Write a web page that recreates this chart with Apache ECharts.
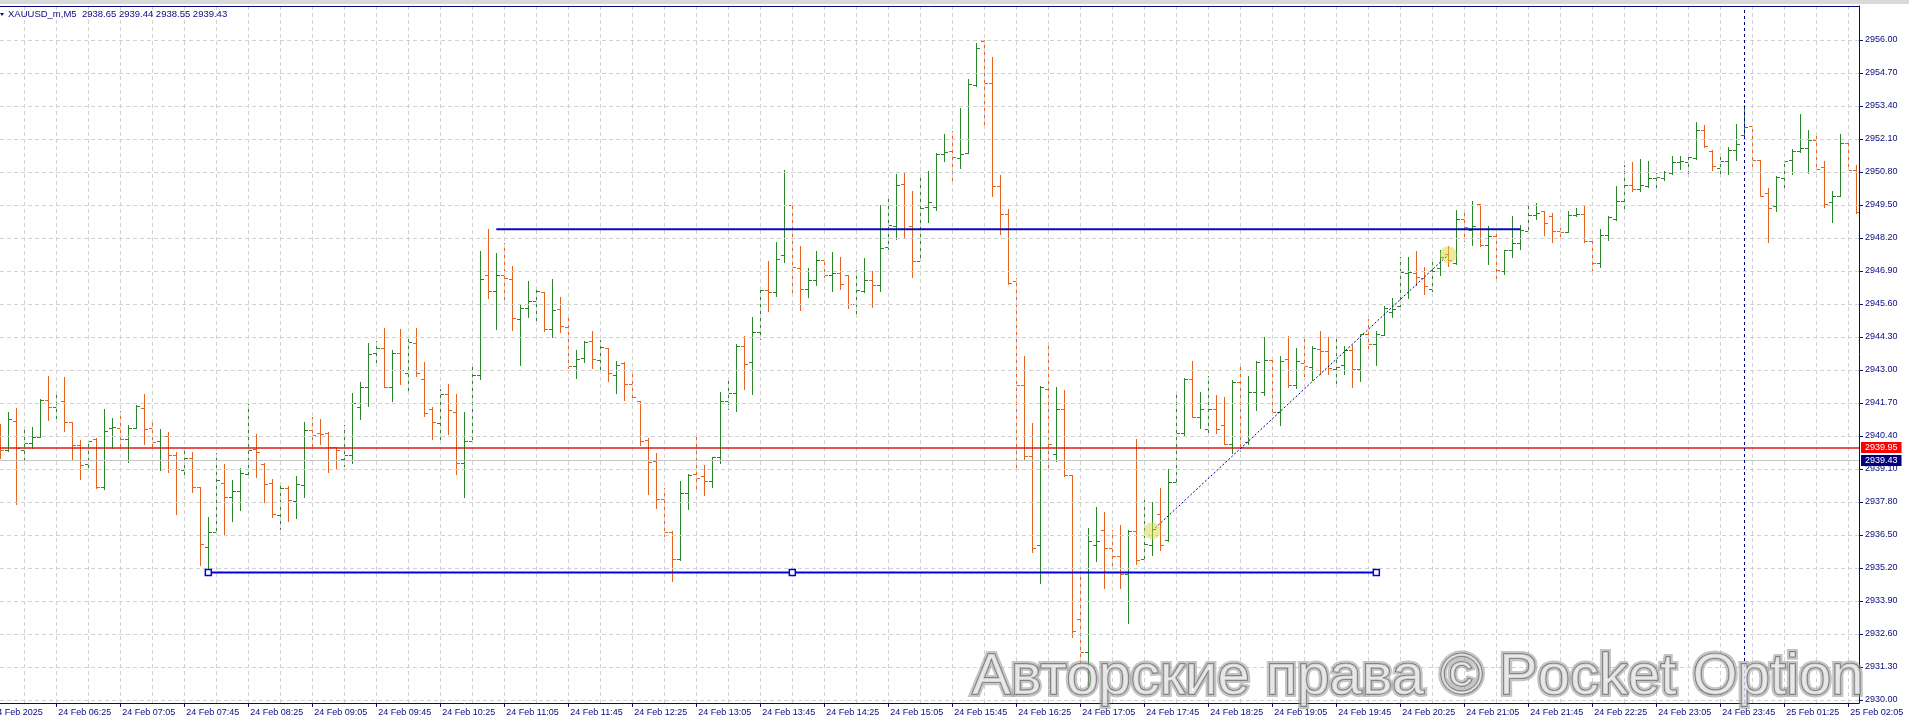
<!DOCTYPE html>
<html>
<head>
<meta charset="utf-8">
<script src="https://cdn.jsdelivr.net/npm/echarts@6.0.0/dist/echarts.min.js"></script>
<style>
html,body{margin:0;padding:0;background:#fff;}
#chart{width:1909px;height:719px;}
</style>
</head>
<body>
<div id="chart"></div>
<script>
// ---------- DATA ----------
const headerText = 'XAUUSD_m,M5  2938.65 2939.44 2938.55 2939.43';

const opens = [
2940.51,2939.83,2940.98,2939.85,2940.12,2940.37,2941.81,2941.54,2941.79,2940.96,
2940.04,2939.29,2940.29,2938.38,2940.70,2940.71,2940.27,2940.71,2941.50,2940.71,
2940.22,2940.41,2939.64,2939.07,2939.53,2938.40,2936.02,2936.61,2938.54,2938.00,
2938.24,2938.91,2939.88,2939.30,2938.55,2937.28,2938.34,2937.84,2938.45,2940.64,
2940.51,2940.50,2939.95,2939.49,2939.64,2941.56,2942.32,2943.66,2943.87,2942.32,
2943.68,2942.88,2944.06,2942.65,2941.48,2940.93,2942.06,2941.33,2939.34,2940.22,
2942.80,2946.74,2946.12,2946.74,2946.58,2945.00,2945.44,2945.71,2946.07,2944.61,
2945.41,2944.70,2943.15,2943.47,2944.15,2943.40,2943.86,2942.80,2943.26,2942.46,
2941.77,2940.26,2939.40,2937.91,2936.62,2935.55,2938.15,2938.90,2938.84,2938.63,
2939.59,2941.79,2942.11,2943.93,2943.31,2944.51,2946.15,2946.06,2947.53,2949.50,
2947.00,2946.19,2946.56,2947.33,2946.74,2946.83,2946.73,2945.61,2946.11,2946.56,
2946.35,2947.83,2948.66,2950.33,2948.67,2947.29,2949.43,2949.41,2951.51,2951.62,
2951.35,2951.54,2954.23,2955.95,2954.32,2950.26,2949.16,2946.49,2942.39,2939.60,
2936.11,2942.26,2939.68,2941.47,2938.87,2933.20,2931.90,2936.11,2936.70,2935.98,
2935.69,2934.97,2936.67,2935.55,2936.09,2937.32,2936.31,2938.59,2940.51,2942.66,
2941.15,2940.66,2941.47,2940.83,2940.07,2942.51,2940.15,2942.12,2942.12,2943.40,
2941.33,2943.44,2942.39,2943.27,2943.10,2943.81,2943.74,2943.02,2943.18,2943.77,
2943.02,2944.40,2944.03,2944.38,2945.29,2945.54,2946.81,2946.81,2946.62,2946.21,
2947.02,2947.57,2947.21,2948.96,2948.53,2949.55,2947.93,2948.26,2946.90,2947.72,
2948.00,2948.46,2949.12,2949.25,2949.05,2948.46,2948.43,2949.12,2949.14,2948.07,
2947.21,2948.33,2948.95,2949.67,2950.30,2950.13,2950.26,2950.56,2950.56,2950.76,
2951.18,2951.18,2951.35,2952.47,2951.61,2950.96,2951.25,2951.68,2952.27,2952.60,
2951.26,2949.97,2949.45,2950.56,2951.29,2951.64,2951.75,2952.07,2950.98,2949.60,
2949.86,2951.94,2950.89
];
const highs = [
2940.88,2941.33,2941.50,2940.72,2940.76,2941.85,2942.77,2942.14,2942.73,2940.96,
2940.25,2940.25,2940.31,2941.47,2941.10,2941.37,2940.83,2941.63,2942.07,2941.08,
2940.67,2940.56,2939.76,2939.85,2939.76,2938.40,2937.21,2939.74,2939.30,2938.67,
2939.12,2941.68,2940.47,2939.34,2938.71,2938.41,2938.41,2938.82,2940.94,2941.16,
2941.08,2940.54,2939.95,2940.84,2942.09,2942.52,2944.06,2944.16,2944.66,2943.80,
2944.62,2944.31,2944.66,2943.31,2941.54,2942.25,2942.46,2942.07,2941.34,2943.10,
2947.70,2948.54,2947.62,2948.01,2947.11,2945.61,2946.52,2946.16,2946.08,2946.60,
2945.89,2945.10,2943.77,2944.13,2944.55,2944.19,2943.86,2943.35,2943.30,2942.89,
2941.77,2940.33,2939.72,2938.37,2936.65,2938.62,2938.90,2940.46,2939.24,2939.59,
2942.15,2942.55,2944.03,2944.35,2945.07,2946.16,2947.30,2948.05,2950.89,2949.50,
2947.90,2947.03,2947.70,2947.38,2947.66,2947.46,2946.73,2946.94,2947.42,2946.91,
2949.51,2949.91,2950.73,2950.81,2950.06,2950.65,2950.85,2951.56,2952.31,2952.42,
2953.33,2954.45,2955.90,2956.00,2955.35,2950.68,2949.35,2946.64,2943.56,2940.91,
2942.36,2943.99,2942.34,2942.21,2938.87,2935.07,2936.78,2937.59,2937.39,2936.70,
2936.90,2936.68,2940.27,2937.88,2937.81,2938.37,2939.11,2942.09,2942.68,2943.35,
2942.12,2942.76,2942.00,2941.92,2942.60,2943.18,2942.76,2943.35,2944.28,2943.40,
2943.56,2944.33,2943.86,2944.28,2943.94,2944.53,2944.28,2944.33,2943.94,2943.99,
2944.41,2945.00,2944.53,2945.54,2945.85,2947.45,2947.45,2947.67,2947.04,2947.34,
2947.74,2947.87,2949.29,2949.29,2949.67,2949.55,2948.66,2948.34,2947.74,2949.05,
2948.72,2949.51,2949.58,2949.27,2949.19,2948.59,2949.27,2949.38,2949.50,2948.13,
2948.57,2949.05,2950.26,2951.06,2951.18,2951.32,2951.22,2950.76,2950.85,2951.42,
2951.42,2951.44,2952.78,2952.66,2951.67,2951.44,2951.78,2952.69,2953.45,2952.66,
2951.29,2950.16,2950.65,2951.29,2951.71,2953.10,2952.47,2952.34,2951.22,2950.06,
2952.31,2952.07,2951.09
];
const lows = [
2939.55,2939.79,2937.71,2939.50,2939.91,2940.37,2941.01,2941.08,2940.60,2939.50,
2938.72,2939.01,2938.37,2938.33,2939.91,2939.91,2939.36,2940.71,2940.10,2940.01,
2939.04,2939.00,2937.31,2938.82,2938.21,2935.30,2935.06,2936.60,2936.49,2937.07,
2937.48,2938.79,2938.80,2937.80,2937.19,2936.75,2937.06,2937.15,2938.01,2939.97,
2940.09,2939.00,2939.08,2939.22,2939.34,2941.08,2941.59,2943.30,2942.31,2941.76,
2942.43,2942.05,2942.75,2941.17,2940.27,2940.22,2940.46,2938.92,2937.99,2940.18,
2942.63,2945.82,2944.60,2945.62,2944.56,2943.18,2945.07,2944.95,2944.53,2944.28,
2944.49,2943.09,2942.67,2943.31,2943.06,2942.97,2942.55,2942.11,2941.81,2941.93,
2940.04,2938.11,2937.57,2936.47,2934.70,2935.52,2937.52,2938.27,2938.08,2938.38,
2939.33,2941.48,2941.38,2942.25,2942.05,2944.22,2945.31,2945.90,2947.25,2946.00,
2945.36,2945.87,2946.36,2946.65,2946.13,2946.20,2945.43,2945.20,2946.07,2945.48,
2946.10,2947.78,2948.17,2948.20,2946.66,2947.29,2948.83,2949.29,2951.22,2950.39,
2950.95,2951.54,2954.20,2952.57,2949.84,2948.34,2946.39,2939.19,2939.51,2935.82,
2934.59,2939.14,2939.43,2938.81,2932.49,2931.39,2930.59,2935.47,2934.43,2935.22,
2934.41,2933.03,2935.35,2935.49,2935.71,2935.92,2936.28,2938.59,2940.44,2941.15,
2940.71,2940.47,2940.50,2940.07,2939.73,2939.82,2940.07,2941.42,2942.01,2941.25,
2940.83,2942.33,2942.29,2942.73,2942.60,2942.85,2942.85,2942.48,2942.83,2942.33,
2942.56,2943.86,2943.18,2944.36,2945.09,2945.51,2945.83,2946.33,2945.99,2946.10,
2946.73,2947.11,2947.17,2948.09,2947.93,2947.87,2947.16,2946.56,2946.79,2947.44,
2947.78,2948.43,2948.96,2948.33,2948.03,2948.11,2948.43,2949.05,2948.03,2946.75,
2947.05,2948.13,2948.92,2949.31,2950.04,2950.04,2950.19,2950.06,2950.47,2950.72,
2950.92,2950.69,2951.31,2951.78,2950.86,2950.76,2950.72,2951.26,2952.21,2950.86,
2949.84,2948.03,2949.25,2950.13,2950.73,2951.57,2950.76,2950.89,2949.42,2948.82,
2949.84,2950.89,2949.18
];
const closes = [
2939.85,2941.06,2939.91,2940.12,2940.37,2941.81,2941.54,2941.71,2940.96,2940.04,
2939.25,2940.21,2938.38,2940.59,2940.75,2940.27,2940.71,2941.60,2940.66,2940.18,
2940.41,2939.64,2939.09,2939.53,2938.40,2936.15,2936.61,2938.67,2938.00,2938.24,
2938.93,2939.85,2939.76,2938.50,2937.31,2938.34,2937.88,2938.49,2940.62,2940.45,
2940.48,2939.96,2939.83,2939.67,2941.68,2942.32,2943.64,2943.86,2942.32,2943.68,
2942.98,2944.10,2942.90,2941.29,2940.97,2942.06,2941.42,2939.32,2940.20,2942.80,
2946.58,2946.12,2946.74,2946.62,2945.04,2945.44,2945.71,2946.11,2944.61,2945.37,
2944.72,2943.14,2943.42,2944.10,2943.43,2943.90,2942.88,2943.18,2942.46,2941.94,
2940.22,2939.36,2937.92,2936.61,2935.55,2938.15,2938.88,2938.74,2938.62,2939.58,
2941.79,2942.11,2943.93,2943.23,2944.51,2946.15,2946.06,2947.37,2949.50,2947.04,
2946.19,2946.56,2947.33,2946.74,2946.83,2946.38,2945.61,2946.16,2946.56,2946.35,
2947.82,2948.71,2950.30,2948.55,2947.29,2949.38,2949.63,2951.51,2951.59,2951.39,
2951.52,2954.27,2955.67,2954.32,2950.26,2949.16,2946.42,2942.39,2939.60,2935.99,
2942.33,2940.10,2941.47,2938.87,2932.71,2931.90,2936.25,2936.25,2935.98,2935.69,
2934.97,2936.67,2935.52,2936.13,2936.73,2936.11,2938.59,2940.51,2942.66,2941.15,
2941.47,2941.47,2940.66,2940.10,2942.51,2939.98,2942.12,2943.32,2943.40,2941.33,
2943.35,2942.39,2943.35,2943.15,2943.86,2943.74,2943.07,2943.13,2943.77,2943.02,
2944.40,2944.03,2944.41,2945.46,2945.42,2946.86,2946.87,2946.67,2946.29,2946.88,
2947.47,2947.34,2948.96,2948.63,2948.68,2947.93,2948.26,2946.92,2947.72,2948.00,
2948.53,2949.12,2949.18,2948.79,2948.46,2948.43,2949.12,2949.14,2948.07,2947.21,
2948.33,2949.03,2949.67,2950.30,2950.13,2950.30,2950.56,2950.59,2950.79,2951.18,
2951.22,2951.38,2952.47,2951.81,2951.05,2951.25,2951.68,2951.92,2952.57,2951.29,
2949.86,2949.38,2950.60,2951.22,2951.61,2951.75,2952.07,2950.93,2949.54,2949.86,
2951.94,2950.89,2949.21
];

const yTickValues = [2930.00,2931.30,2932.60,2933.90,2935.20,2936.50,2937.80,2939.10,2940.40,2941.70,
  2943.00,2944.30,2945.60,2946.90,2948.20,2949.50,2950.80,2952.10,2953.40,2954.70,2956.00];

// label k sits on bar 8k-1 (first one, bar -1, is cut off at the left edge)
const xTickLabels = ['24 Feb 2025','24 Feb 06:25','24 Feb 07:05','24 Feb 07:45','24 Feb 08:25','24 Feb 09:05',
  '24 Feb 09:45','24 Feb 10:25','24 Feb 11:05','24 Feb 11:45','24 Feb 12:25','24 Feb 13:05','24 Feb 13:45',
  '24 Feb 14:25','24 Feb 15:05','24 Feb 15:45','24 Feb 16:25','24 Feb 17:05','24 Feb 17:45','24 Feb 18:25',
  '24 Feb 19:05','24 Feb 19:45','24 Feb 20:25','24 Feb 21:05','24 Feb 21:45','24 Feb 22:25','24 Feb 23:05',
  '24 Feb 23:45','25 Feb 01:25','25 Feb 02:05'];

const askPrice = 2939.95;
const bidPrice = 2939.43;
const resistance = [[62, 2948.54], [190, 2948.54]];
const support = [[26, 2935.02], [99, 2935.02], [172, 2935.02]];
const trendLine = [[144, 2936.67], [181, 2947.54]];
const daySeparatorBar = 218;
const watermarkText = 'Авторские права © Pocket Option';

// ---------- CHART ----------
const GREEN = '#2b862b', ORANGE = '#e6621f', NAVY = '#0a0a80';
const FONT = '"Liberation Sans", Arial, sans-serif';

const nBars = opens.length;
const xTickBars = xTickLabels.map((_, k) => 8 * k - 1).filter(v => v >= 0);
const xGridBars = [];
for (let i = 3; i < nBars; i += 4) xGridBars.push(i);

const ohlc = opens.map((o, i) => [i, o, highs[i], lows[i], closes[i]]);

const chart = echarts.init(document.getElementById('chart'), null, {renderer: 'canvas'});

function renderBar(params, api) {
  const i = api.value(0);
  const o = api.value(1), h = api.value(2), l = api.value(3), c = api.value(4);
  const pH = api.coord([i, h]), pL = api.coord([i, l]);
  const pO = api.coord([i, o]), pC = api.coord([i, c]);
  const cx = Math.round(pH[0]);
  const color = c >= o ? GREEN : ORANGE;
  const st = {stroke: color, lineWidth: 1};
  const yo = Math.round(pO[1]) + 0.5, yc = Math.round(pC[1]) + 0.5;
  return {
    type: 'group',
    children: [
      {type: 'line', shape: {x1: cx + 0.5, y1: Math.round(pH[1]), x2: cx + 0.5, y2: Math.round(pL[1]) + 1}, style: st},
      {type: 'line', shape: {x1: cx - 3, y1: yo, x2: cx, y2: yo}, style: st},
      {type: 'line', shape: {x1: cx + 1, y1: yc, x2: cx + 4, y2: yc}, style: st}
    ]
  };
}

const option = {
  animation: false,
  backgroundColor: '#ffffff',
  title: {
    text: headerText, left: 8, top: 9, padding: 0,
    textStyle: {fontFamily: FONT, fontSize: 9.5, fontWeight: 'normal', color: NAVY}
  },
  grid: {left: 0, right: 50, top: 6, bottom: 16, containLabel: false, outerBoundsMode: 'none'},
  xAxis: {
    type: 'value', min: -0.041, max: 232.334,
    axisLine: {show: true, onZero: false, lineStyle: {color: NAVY, width: 1}},
    axisTick: {show: true, customValues: xTickBars, length: 4, lineStyle: {color: NAVY}},
    axisLabel: {
      customValues: xTickBars, align: 'left', margin: 5, padding: [0, 0, 0, 2],
      color: NAVY, fontFamily: FONT, fontSize: 9,
      formatter: v => xTickLabels[(v + 1) / 8] || ''
    },
    splitLine: {show: false}
  },
  yAxis: {
    type: 'value', position: 'right', min: 2929.88, max: 2957.34, scale: true,
    axisLine: {show: true, onZero: false, lineStyle: {color: NAVY, width: 1}},
    axisTick: {show: true, customValues: yTickValues, length: 4, lineStyle: {color: NAVY}},
    axisLabel: {
      customValues: yTickValues, margin: 6, color: NAVY, fontFamily: FONT, fontSize: 9,
      formatter: v => Number(v).toFixed(2)
    },
    splitLine: {show: false}
  },
  series: [
    { // grid lines
      type: 'scatter', data: [], z: 1, silent: true,
      markLine: {
        silent: true, symbol: ['none', 'none'], animation: false,
        label: {show: false},
        lineStyle: {color: '#d2d2d2', type: [4, 3], width: 1},
        data: yTickValues.map(v => ({yAxis: v})).concat(xGridBars.map(v => ({xAxis: v})))
      }
    },
    { // bid line (gray)
      type: 'scatter', data: [], z: 2, silent: true,
      markLine: {
        silent: true, symbol: ['none', 'none'], animation: false,
        data: [{
          yAxis: bidPrice,
          lineStyle: {color: '#c6c6c6', type: 'solid', width: 1},
          label: {show: true, position: 'end', distance: 2, formatter: bidPrice.toFixed(2),
            backgroundColor: '#000080', color: '#ffffff', padding: [1, 4, 0, 4],
            fontFamily: FONT, fontSize: 9, lineHeight: 10}
        }]
      }
    },
    {
      type: 'custom', name: 'XAUUSD', data: ohlc, renderItem: renderBar, z: 3, clip: true,
      encode: {x: 0, y: [1, 2, 3, 4]}
    },
    { // ask line (red)
      type: 'scatter', data: [], z: 4, silent: true,
      markLine: {
        silent: true, symbol: ['none', 'none'], animation: false,
        data: [{
          yAxis: askPrice,
          lineStyle: {color: '#e01818', type: 'solid', width: 1.5},
          label: {show: true, position: 'end', distance: 2, formatter: askPrice.toFixed(2),
            backgroundColor: '#ff0000', color: '#ffffff', padding: [1, 4, 0, 4],
            fontFamily: FONT, fontSize: 9, lineHeight: 10}
        }]
      }
    },
    { // day separator
      type: 'scatter', data: [], z: 4, silent: true,
      markLine: {
        silent: true, symbol: ['none', 'none'], animation: false, label: {show: false},
        lineStyle: {color: '#000080', type: [3, 3], width: 1},
        data: [{xAxis: daySeparatorBar}]
      }
    },
    { // resistance
      type: 'line', data: resistance, z: 5, silent: true, symbol: 'none',
      lineStyle: {color: '#0a0ab4', width: 2}
    },
    { // support with handles
      type: 'line', data: support, z: 5, silent: true,
      symbol: 'rect', symbolSize: 6, showAllSymbol: true,
      lineStyle: {color: '#0000e0', width: 2},
      itemStyle: {color: '#ffffff', borderColor: '#0000e0', borderWidth: 1.5}
    },
    { // trend line
      type: 'line', data: trendLine, z: 5, silent: true, symbol: 'none',
      lineStyle: {color: '#000080', width: 1, type: [2, 2]}
    },
    { // anchor highlights
      type: 'scatter', data: trendLine, z: 6, silent: true,
      symbol: 'circle', symbolSize: 17,
      itemStyle: {color: 'rgba(214,214,60,0.62)'}
    }
  ]
};
chart.setOption(option);

let firstLabelX = chart.convertToPixel({xAxisIndex: 0}, -1);
if (typeof firstLabelX !== 'number' || !isFinite(firstLabelX)) firstLabelX = -8;
chart.setOption({
  graphic: [
    {type: 'rect', shape: {x: 0, y: 0, width: 1909, height: 4}, style: {fill: '#d9d9d9'}, z: 50, silent: true},
    {type: 'line', shape: {x1: 0, y1: 6.5, x2: 1859.5, y2: 6.5}, style: {stroke: NAVY, lineWidth: 1}, z: 50, silent: true},
    {type: 'polygon', shape: {points: [[0, 13], [4, 13], [2, 16]]}, style: {fill: NAVY}, z: 50, silent: true},
    {type: 'text', x: firstLabelX, y: 708, z: 50, silent: true,
      style: {text: xTickLabels[0], font: '9px ' + FONT, fill: NAVY, textAlign: 'left', textVerticalAlign: 'top'}},
    {type: 'text', x: 972, y: 678, z: 60, silent: true,
      style: {text: watermarkText, font: '58px ' + FONT, fill: 'none', stroke: 'rgba(150,150,150,0.55)', lineWidth: 6,
        textAlign: 'left', textVerticalAlign: 'middle'}},
    {type: 'text', x: 972, y: 678, z: 61, silent: true,
      style: {text: watermarkText, font: '58px ' + FONT, fill: 'rgba(255,255,255,0.6)', stroke: '#6f6f6f', lineWidth: 1.5,
        textAlign: 'left', textVerticalAlign: 'middle'}}
  ]
});
</script>
</body>
</html>
